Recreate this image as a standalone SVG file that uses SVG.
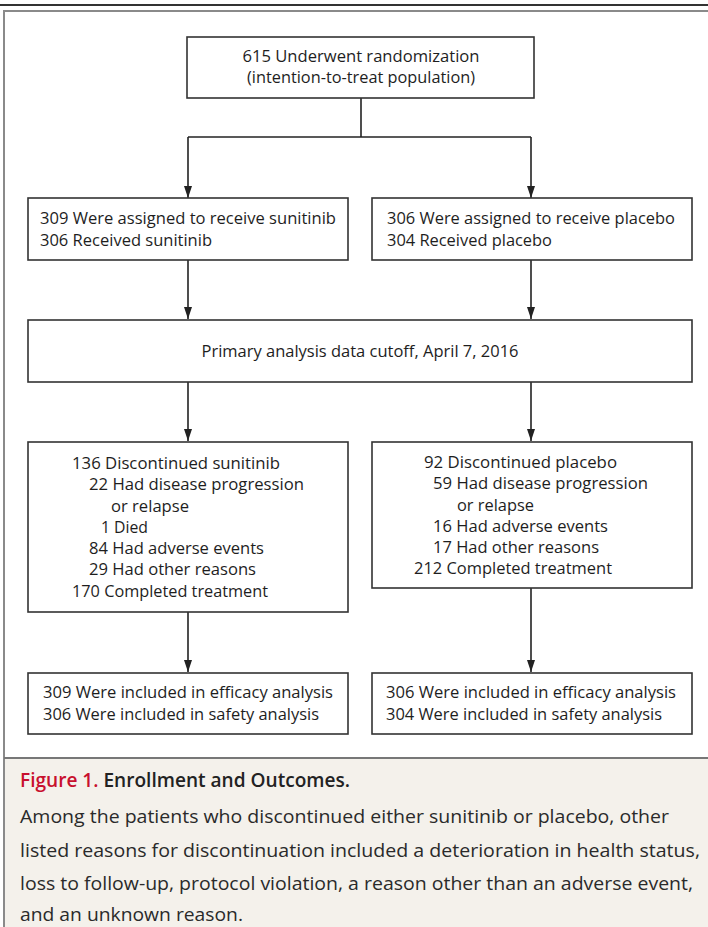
<svg xmlns="http://www.w3.org/2000/svg" width="708" height="927" viewBox="0 0 708 927">
<defs>
<marker id="arr" viewBox="0 0 12 8" refX="12" refY="4" markerWidth="12" markerHeight="8" orient="auto" markerUnits="userSpaceOnUse">
<path d="M0,0 L12,4 L0,8 z" fill="#222"/>
</marker>
<style>
.box{fill:#fff;stroke:#333;stroke-width:1.6}
.t{font-family:"Open Sans","Liberation Sans",sans-serif;font-size:16.5px;fill:#1e1e1e}
.c{font-family:"Open Sans","Liberation Sans",sans-serif;font-size:19px;fill:#2a2a2a}
.cb{font-family:"Open Sans","Liberation Sans",sans-serif;font-size:19px;font-weight:600}
.ln{fill:none;stroke:#222;stroke-width:1.6}
</style>
</defs>
<rect x="0" y="0" width="708" height="927" fill="#fff"/>
<line x1="0" y1="5" x2="708" y2="5" stroke="#333" stroke-width="2"/>
<rect x="5" y="758" width="710" height="180" fill="#f4f1eb"/>
<rect x="4" y="11" width="720" height="940" fill="none" stroke="#8a8a8a" stroke-width="2"/>
<line x1="4" y1="758" x2="708" y2="758" stroke="#777" stroke-width="2"/>

<g id="connectors">
<path class="ln" d="M361,98 V137"/>
<path class="ln" d="M188,137 H531"/>
<path class="ln" d="M188,137 V198" marker-end="url(#arr)"/>
<path class="ln" d="M531,137 V198" marker-end="url(#arr)"/>
<path class="ln" d="M188,260 V319" marker-end="url(#arr)"/>
<path class="ln" d="M531,260 V319" marker-end="url(#arr)"/>
<path class="ln" d="M188,382 V441" marker-end="url(#arr)"/>
<path class="ln" d="M531,382 V441" marker-end="url(#arr)"/>
<path class="ln" d="M188,612 V672" marker-end="url(#arr)"/>
<path class="ln" d="M531,588 V672" marker-end="url(#arr)"/>
</g>

<g id="randomization">
<rect class="box" x="187" y="37" width="347" height="61"/>
<text class="t" x="361" y="62" text-anchor="middle" textLength="237" lengthAdjust="spacingAndGlyphs">615 Underwent randomization</text>
<text class="t" x="361" y="83" text-anchor="middle" textLength="228" lengthAdjust="spacingAndGlyphs">(intention-to-treat population)</text>
</g>

<g id="sunitinib-assigned">
<rect class="box" x="28" y="198" width="320" height="62"/>
<text class="t" x="40" y="224" textLength="296" lengthAdjust="spacingAndGlyphs">309 Were assigned to receive sunitinib</text>
<text class="t" x="40" y="246" textLength="172" lengthAdjust="spacingAndGlyphs">306 Received sunitinib</text>
</g>

<g id="placebo-assigned">
<rect class="box" x="372" y="198" width="320" height="62"/>
<text class="t" x="387" y="224" textLength="288" lengthAdjust="spacingAndGlyphs">306 Were assigned to receive placebo</text>
<text class="t" x="387" y="246" textLength="165" lengthAdjust="spacingAndGlyphs">304 Received placebo</text>
</g>

<g id="cutoff">
<rect class="box" x="28" y="320" width="664" height="62"/>
<text class="t" x="360" y="357" text-anchor="middle" textLength="317" lengthAdjust="spacingAndGlyphs">Primary analysis data cutoff, April 7, 2016</text>
</g>

<g id="sunitinib-discontinued">
<rect class="box" x="28" y="442" width="320" height="170"/>
<text class="t" x="72" y="469" textLength="208" lengthAdjust="spacingAndGlyphs">136 Discontinued sunitinib</text>
<text class="t" x="89" y="490" textLength="215" lengthAdjust="spacingAndGlyphs">22 Had disease progression</text>
<text class="t" x="111" y="512" textLength="78" lengthAdjust="spacingAndGlyphs">or relapse</text>
<text class="t" x="101" y="533" textLength="47" lengthAdjust="spacingAndGlyphs">1 Died</text>
<text class="t" x="89" y="554" textLength="175" lengthAdjust="spacingAndGlyphs">84 Had adverse events</text>
<text class="t" x="89" y="575" textLength="167" lengthAdjust="spacingAndGlyphs">29 Had other reasons</text>
<text class="t" x="72" y="597" textLength="196" lengthAdjust="spacingAndGlyphs">170 Completed treatment</text>
</g>

<g id="placebo-discontinued">
<rect class="box" x="372" y="442" width="320" height="146"/>
<text class="t" x="424" y="468" textLength="193" lengthAdjust="spacingAndGlyphs">92 Discontinued placebo</text>
<text class="t" x="433" y="489" textLength="215" lengthAdjust="spacingAndGlyphs">59 Had disease progression</text>
<text class="t" x="457" y="511" textLength="77" lengthAdjust="spacingAndGlyphs">or relapse</text>
<text class="t" x="433" y="532" textLength="175" lengthAdjust="spacingAndGlyphs">16 Had adverse events</text>
<text class="t" x="433" y="553" textLength="166" lengthAdjust="spacingAndGlyphs">17 Had other reasons</text>
<text class="t" x="414" y="574" textLength="198" lengthAdjust="spacingAndGlyphs">212 Completed treatment</text>
</g>

<g id="sunitinib-analysis">
<rect class="box" x="28" y="673" width="320" height="61"/>
<text class="t" x="43" y="698" textLength="290" lengthAdjust="spacingAndGlyphs">309 Were included in efficacy analysis</text>
<text class="t" x="43" y="720" textLength="276" lengthAdjust="spacingAndGlyphs">306 Were included in safety analysis</text>
</g>

<g id="placebo-analysis">
<rect class="box" x="372" y="673" width="320" height="61"/>
<text class="t" x="386" y="698" textLength="290" lengthAdjust="spacingAndGlyphs">306 Were included in efficacy analysis</text>
<text class="t" x="386" y="720" textLength="276" lengthAdjust="spacingAndGlyphs">304 Were included in safety analysis</text>
</g>

<g id="caption">
<text class="cb" x="20" y="787" textLength="330" lengthAdjust="spacingAndGlyphs"><tspan fill="#c8102e">Figure 1.</tspan><tspan fill="#222"> Enrollment and Outcomes.</tspan></text>
<text class="c" x="20" y="823" textLength="649" lengthAdjust="spacingAndGlyphs">Among the patients who discontinued either sunitinib or placebo, other</text>
<text class="c" x="20" y="857" textLength="680" lengthAdjust="spacingAndGlyphs">listed reasons for discontinuation included a deterioration in health status,</text>
<text class="c" x="20" y="890" textLength="673" lengthAdjust="spacingAndGlyphs">loss to follow-up, protocol violation, a reason other than an adverse event,</text>
<text class="c" x="20" y="921" textLength="223" lengthAdjust="spacingAndGlyphs">and an unknown reason.</text>
</g>
</svg>
